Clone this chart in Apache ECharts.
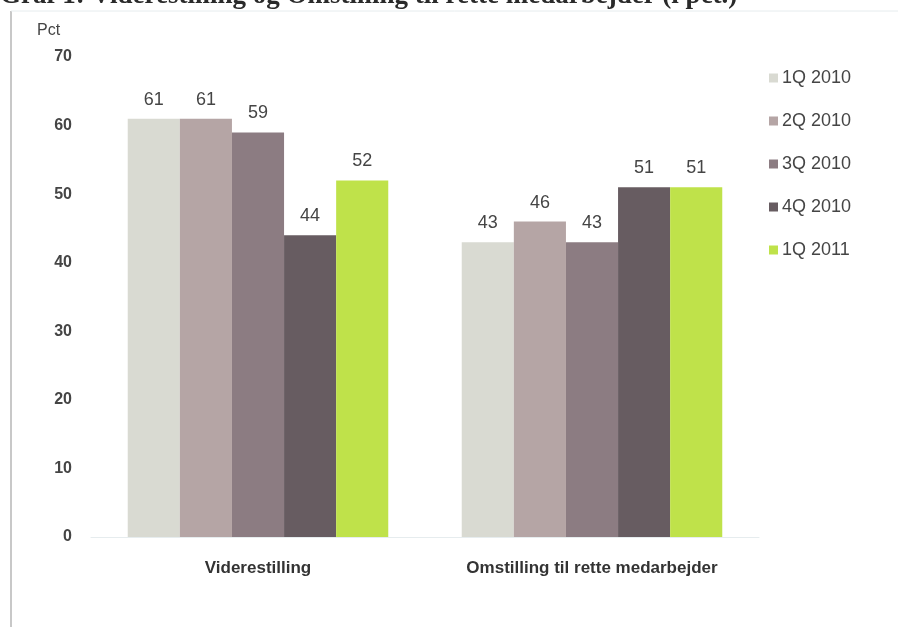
<!DOCTYPE html>
<html>
<head>
<meta charset="utf-8">
<style>
  html, body { margin: 0; padding: 0; background: #fff; }
  #chart { width: 898px; height: 627px; }
</style>
<script src="https://cdn.jsdelivr.net/npm/echarts@6/dist/echarts.min.js"></script>
</head>
<body>
<div id="chart"></div>
<script>
// Categories on the x axis
const categories = ['Viderestilling', 'Omstilling til rette medarbejder'];

// Quarterly survey results, in percent
const seriesNames = ['1Q 2010', '2Q 2010', '3Q 2010', '4Q 2010', '1Q 2011'];
const q1_2010 = [61, 43];
const q2_2010 = [61, 46];
const q3_2010 = [59, 43];
const q4_2010 = [44, 51];
const q1_2011 = [52, 51];

// Y axis ticks
const yMin = 0;
const yMax = 70;
const yStep = 10;

const colors = ['#d9dad2', '#b5a5a5', '#8c7c82', '#675c61', '#bfe24a'];
const seriesValues = [q1_2010, q2_2010, q3_2010, q4_2010, q1_2011];

const textColor = '#454545';
const font = 'Liberation Sans, Arial, sans-serif';

const chart = echarts.init(document.getElementById('chart'), null, { renderer: 'canvas' });

chart.setOption({
  backgroundColor: '#ffffff',
  animation: false,
  color: colors,
  graphic: [
    {
      type: 'text',
      left: 0,
      top: -17,
      style: {
        text: 'Graf 1: Viderestilling og Omstilling til rette medarbejder (i pct.)',
        font: 'bold 27px "Liberation Serif", "Times New Roman", serif',
        fill: '#2a2a2a'
      }
    },
    {
      type: 'line',
      shape: { x1: 11, y1: 11, x2: 11, y2: 627 },
      style: { stroke: '#c8c8c8', lineWidth: 2 }
    },
    {
      type: 'line',
      shape: { x1: 11, y1: 11, x2: 898, y2: 11 },
      style: { stroke: '#e6ecee', lineWidth: 1 }
    },
    {
      type: 'text',
      left: 37,
      top: 23,
      style: {
        text: 'Pct',
        font: '16px ' + font,
        fill: textColor
      }
    }
  ],
  legend: {
    orient: 'vertical',
    left: 764,
    top: 64,
    itemGap: 25,
    itemWidth: 9,
    itemHeight: 9,
    icon: 'rect',
    textStyle: { color: textColor, fontSize: 18, fontFamily: font, padding: [0, 0, 0, -1] },
    data: seriesNames
  },
  grid: { left: 91, right: 139, top: 57, bottom: 90 },
  xAxis: {
    type: 'category',
    data: categories,
    axisLine: { show: true, lineStyle: { color: '#e6ecee', width: 1 } },
    axisTick: { show: false },
    axisLabel: {
      color: '#333',
      fontSize: 17,
      fontWeight: 'bold',
      fontFamily: font,
      margin: 23
    }
  },
  yAxis: {
    type: 'value',
    min: yMin,
    max: yMax,
    interval: yStep,
    axisLine: { show: false },
    axisTick: { show: false },
    splitLine: { show: false },
    axisLabel: {
      color: textColor,
      fontSize: 16,
      fontWeight: 'bold',
      fontFamily: font,
      margin: 19
    }
  },
  series: seriesNames.map((name, i) => ({
    name: name,
    type: 'bar',
    data: seriesValues[i],
    barGap: '0%',
    barCategoryGap: '22%',
    itemStyle: { color: colors[i] },
    label: {
      show: true,
      position: 'top',
      distance: 10,
      color: textColor,
      fontSize: 18,
      fontFamily: font
    }
  }))
});
</script>
</body>
</html>
